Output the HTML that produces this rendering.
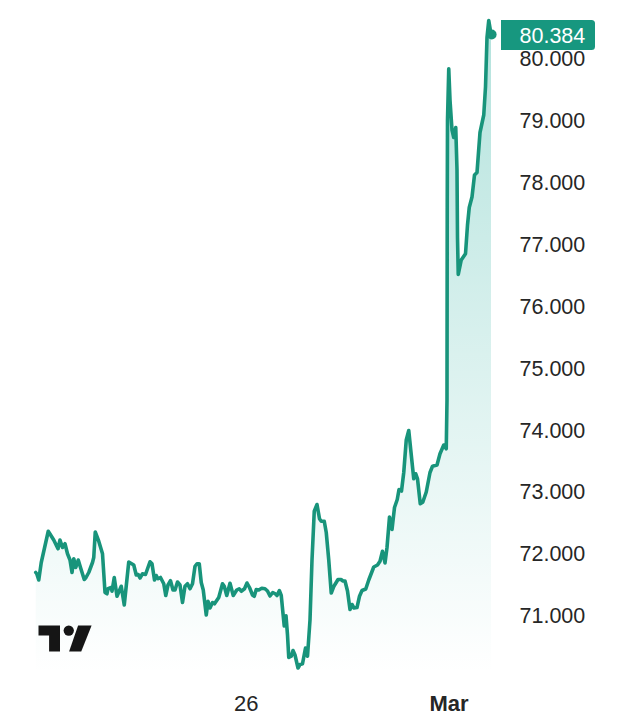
<!DOCTYPE html>
<html><head><meta charset="utf-8"><title>Chart</title>
<style>
html,body{margin:0;padding:0;background:#fff;}
body{width:640px;height:716px;position:relative;overflow:hidden;font-family:"Liberation Sans",sans-serif;color:#222;}
svg{position:absolute;left:0;top:0;}
.lb{position:absolute;left:519.5px;width:70px;height:24px;line-height:24px;font-size:21.5px;color:#262626;white-space:nowrap;}
.tag{position:absolute;left:501px;top:20.4px;width:94.3px;height:29.4px;background:#17977f;border-radius:0 3.5px 3.5px 0;color:#fff;font-size:21.5px;line-height:32px;box-sizing:border-box;padding-left:18.5px;white-space:nowrap;}
.tl{position:absolute;top:691.5px;height:24px;line-height:24px;font-size:22px;color:#262626;white-space:nowrap;}
</style></head><body>
<svg width="640" height="716" viewBox="0 0 640 716">
<defs><linearGradient id="g" gradientUnits="userSpaceOnUse" x1="0" y1="20" x2="0" y2="674">
<stop offset="0" stop-color="#00a08c" stop-opacity="0.30"/>
<stop offset="1" stop-color="#00a08c" stop-opacity="0.0"/>
</linearGradient></defs>
<path d="M35.75,572.5 L36.75,573.75 L38.75,580 L41.25,562.5 L48.25,531.25 L53.75,540 L58,548.75 L60,540 L62.5,547.5 L65,543.75 L67.5,553.75 L70,560 L72,572.5 L73.75,558.75 L75.75,567.5 L78.25,560 L80.5,567.5 L84.25,579.5 L86,577.5 L88.75,572.5 L92.5,562.5 L93.75,557.5 L95.25,532 L98.75,541.25 L102.5,553.75 L105,592.5 L107,593.75 L108,588.75 L111.25,587.5 L112,591.25 L114.25,577.5 L117,596.25 L121.25,586.25 L124.25,605 L128.75,562 L133.75,565 L136.25,575 L138.25,574.5 L140,578 L142.5,573.75 L145.5,574.5 L150,561.75 L152,563.75 L154.5,580 L156.25,575.5 L158,578.75 L160.5,577.5 L163.75,583.75 L165.75,595.5 L168,585 L170.5,580.75 L173,590 L175,590 L177.5,582 L180,585 L182.5,602.5 L185,586.25 L187.5,583.75 L190,588.75 L192.5,583.75 L195,566.25 L197,563.75 L199.25,563.75 L201.25,582.5 L203.25,590 L206.25,615 L208,601.25 L210,608 L212.5,602.5 L214.5,603.75 L218.75,597.5 L222.5,583.75 L224.25,586.25 L226.75,595.5 L230,583.25 L233.25,595.5 L236.75,590 L239.25,588.75 L241.25,591.25 L244.5,588.75 L247,583 L249.5,587.5 L252.5,595 L254.25,596.25 L256.25,589.5 L258.75,590 L261.75,588.25 L265,588.75 L267.5,591 L270,596 L272.75,592.5 L275.25,593.75 L277,595.5 L279.4,590.6 L281.25,595.5 L283.1,614.5 L284.25,626 L286,615.75 L287.5,635 L288.75,657.5 L291.25,656.25 L293,650.5 L295,655 L298,668 L300,664.5 L302.5,663.75 L305.5,648 L307.5,656.25 L310,620 L312,560 L314.25,511.25 L317,504.5 L319.5,518.75 L321.25,521.25 L324.25,521.25 L326.25,532.5 L328.75,560 L331.25,593 L333.75,586.5 L338,579.5 L341,579.5 L343,581 L345,581 L347.5,591 L350,609.5 L352,604.5 L354,608 L357,607.5 L359.5,596.25 L362,590.5 L365.75,589 L368.75,580 L373.75,567 L377.5,565 L380,561.25 L382.5,551.25 L385,563 L387,547.5 L389.5,517 L392,529.5 L394.5,507.5 L397.25,499.5 L399,489.5 L401.5,491 L403.75,472.5 L406.25,440 L408.75,430.5 L410.75,450 L413.75,478.75 L415.75,473.75 L417.5,478.75 L420.25,503.75 L422.75,502.25 L426.25,492 L430,472.5 L432.5,466.25 L437,465 L440,453.75 L443.75,445 L446.25,448.75 L447,400 L447.25,200 L447.5,120 L448.75,68.75 L450,100 L452,130 L453.75,137.5 L455.75,127.5 L457,170 L457.5,237.5 L458.25,274.5 L461.25,260 L465.5,253.75 L467.5,225 L469.25,207.5 L472,197 L474.5,175 L477,172.5 L480,132.5 L483.75,115 L485.5,87 L487,37.5 L488.75,20.5 L491,34 L491,674 L35.75,674 Z" fill="url(#g)"/>
<polyline points="35.75,572.5 36.75,573.75 38.75,580 41.25,562.5 48.25,531.25 53.75,540 58,548.75 60,540 62.5,547.5 65,543.75 67.5,553.75 70,560 72,572.5 73.75,558.75 75.75,567.5 78.25,560 80.5,567.5 84.25,579.5 86,577.5 88.75,572.5 92.5,562.5 93.75,557.5 95.25,532 98.75,541.25 102.5,553.75 105,592.5 107,593.75 108,588.75 111.25,587.5 112,591.25 114.25,577.5 117,596.25 121.25,586.25 124.25,605 128.75,562 133.75,565 136.25,575 138.25,574.5 140,578 142.5,573.75 145.5,574.5 150,561.75 152,563.75 154.5,580 156.25,575.5 158,578.75 160.5,577.5 163.75,583.75 165.75,595.5 168,585 170.5,580.75 173,590 175,590 177.5,582 180,585 182.5,602.5 185,586.25 187.5,583.75 190,588.75 192.5,583.75 195,566.25 197,563.75 199.25,563.75 201.25,582.5 203.25,590 206.25,615 208,601.25 210,608 212.5,602.5 214.5,603.75 218.75,597.5 222.5,583.75 224.25,586.25 226.75,595.5 230,583.25 233.25,595.5 236.75,590 239.25,588.75 241.25,591.25 244.5,588.75 247,583 249.5,587.5 252.5,595 254.25,596.25 256.25,589.5 258.75,590 261.75,588.25 265,588.75 267.5,591 270,596 272.75,592.5 275.25,593.75 277,595.5 279.4,590.6 281.25,595.5 283.1,614.5 284.25,626 286,615.75 287.5,635 288.75,657.5 291.25,656.25 293,650.5 295,655 298,668 300,664.5 302.5,663.75 305.5,648 307.5,656.25 310,620 312,560 314.25,511.25 317,504.5 319.5,518.75 321.25,521.25 324.25,521.25 326.25,532.5 328.75,560 331.25,593 333.75,586.5 338,579.5 341,579.5 343,581 345,581 347.5,591 350,609.5 352,604.5 354,608 357,607.5 359.5,596.25 362,590.5 365.75,589 368.75,580 373.75,567 377.5,565 380,561.25 382.5,551.25 385,563 387,547.5 389.5,517 392,529.5 394.5,507.5 397.25,499.5 399,489.5 401.5,491 403.75,472.5 406.25,440 408.75,430.5 410.75,450 413.75,478.75 415.75,473.75 417.5,478.75 420.25,503.75 422.75,502.25 426.25,492 430,472.5 432.5,466.25 437,465 440,453.75 443.75,445 446.25,448.75 447,400 447.25,200 447.5,120 448.75,68.75 450,100 452,130 453.75,137.5 455.75,127.5 457,170 457.5,237.5 458.25,274.5 461.25,260 465.5,253.75 467.5,225 469.25,207.5 472,197 474.5,175 477,172.5 480,132.5 483.75,115 485.5,87 487,37.5 488.75,20.5 491,34" fill="none" stroke="#18947b" stroke-width="3.6" stroke-linejoin="round" stroke-linecap="round"/>
<circle cx="491.7" cy="34.5" r="4.9" fill="#18947b"/>
<g fill="#151515">
<path d="M38.5 625.6H60V651.6H49.1V635.6H38.5Z"/>
<circle cx="68.75" cy="630.6" r="5.15"/>
<path d="M78.1 625.6H91.6L81.25 651.6H69.1Z"/>
</g>
</svg>
<div class="lb" style="top:47.4px">80.000</div><div class="lb" style="top:109.3px">79.000</div><div class="lb" style="top:171.2px">78.000</div><div class="lb" style="top:233.0px">77.000</div><div class="lb" style="top:294.9px">76.000</div><div class="lb" style="top:356.7px">75.000</div><div class="lb" style="top:418.6px">74.000</div><div class="lb" style="top:480.4px">73.000</div><div class="lb" style="top:542.2px">72.000</div><div class="lb" style="top:604.1px">71.000</div>
<div class="tag">80.384</div>
<div class="tl" style="left:234px">26</div>
<div class="tl" style="left:429.5px;font-weight:bold">Mar</div>
</body></html>
